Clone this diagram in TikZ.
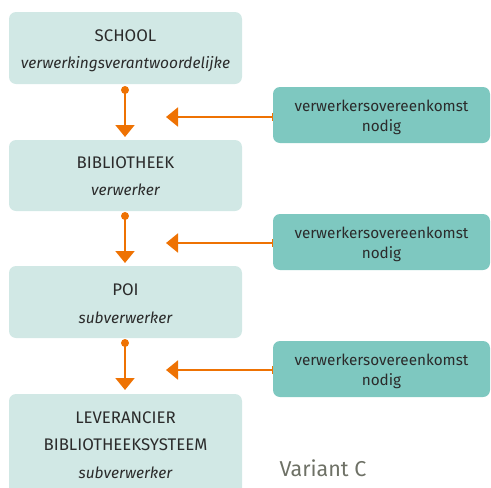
\documentclass[tikz,border=0pt]{standalone}
\usepackage{fontspec}
\setmainfont{Fira Sans}
\usetikzlibrary{arrows.meta}
\definecolor{lightbox}{HTML}{D1E8E5}
\definecolor{darkbox}{HTML}{7EC8C0}
\definecolor{arrowor}{HTML}{EE7203}
\definecolor{txt}{HTML}{2B2B2B}
\definecolor{varc}{HTML}{6E7166}
\begin{document}
\begin{tikzpicture}[x=1pt,y=-1pt,
  lbox/.style={fill=lightbox,rounded corners=7pt,draw=none},
  rbox/.style={fill=darkbox,rounded corners=7pt,draw=none},
  ltext/.style={text=txt,font=\fontsize{15.5}{18}\selectfont},
  utext/.style={text=txt,font=\fontsize{16.8}{18}\selectfont},
  rtext/.style={text=txt,font=\fontsize{15.3}{20}\selectfont,align=center},
  vline/.style={draw=arrowor,line width=2pt,-{Triangle[width=19pt,length=12pt]}},
  hline/.style={draw=arrowor,line width=2pt,{Bar[width=8pt,line width=1pt]}-{Triangle[width=19pt,length=12pt]}},
  dot/.style={circle,fill=arrowor,inner sep=0pt,minimum size=8pt}]
\useasboundingbox (0,0) rectangle (491,488);
% left boxes
\path[lbox] (9,12) rectangle (242,84);
\path[lbox] (9,140) rectangle (242,211);
\path[lbox] (9,266) rectangle (242,338);
\path[lbox] (9,394) rectangle (242,500);
\node[utext] (t1a) at (125.5,36) {SCHOOL};
\node[ltext] (t1b) at (125.5,64) {\itshape verwerkingsverantwoordelijke};
\node[utext] (t2a) at (125.5,163) {BIBLIOTHEEK};
\node[ltext] (t2b) at (125.5,190) {\itshape verwerker};
\node[utext] (t3a) at (125.5,290) {POI};
\node[ltext] (t3b) at (125.5,318) {\itshape subverwerker};
\node[utext] (t4a) at (125.5,418) {LEVERANCIER};
\node[utext] (t4b) at (125.5,445) {BIBLIOTHEEKSYSTEEM};
\node[ltext] (t4c) at (125.5,473) {\itshape subverwerker};
% right boxes
\path[rbox] (273,87) rectangle (490,143);
\path[rbox] (273,214) rectangle (490,270);
\path[rbox] (273,341) rectangle (490,397);
\node[rtext] (r1) at (381.5,117) {verwerkersovereenkomst\\nodig};
\node[rtext] (r2) at (381.5,244) {verwerkersovereenkomst\\nodig};
\node[rtext] (r3) at (381.5,371) {verwerkersovereenkomst\\nodig};
% vertical arrows
\node[dot] (d1) at (125,90) {};
\node[dot] (d2) at (125,216) {};
\node[dot] (d3) at (125,343) {};
\coordinate (e1) at (125,137);
\coordinate (e2) at (125,263);
\coordinate (e3) at (125,390);
\draw[vline] (d1.center) -- (e1);
\draw[vline] (d2.center) -- (e2);
\draw[vline] (d3.center) -- (e3);
% horizontal arrows
\coordinate (s1) at (273,117);
\coordinate (s2) at (273,243);
\coordinate (s3) at (273,370);
\coordinate (h1) at (166,117);
\coordinate (h2) at (166,243);
\coordinate (h3) at (166,370);
\draw[hline] (s1) -- (h1);
\draw[hline] (s2) -- (h2);
\draw[hline] (s3) -- (h3);
\node[text=varc,font=\fontsize{21.5}{24}\selectfont,anchor=west] (vc) at (276,468) {Variant C};
\end{tikzpicture}
\end{document}
